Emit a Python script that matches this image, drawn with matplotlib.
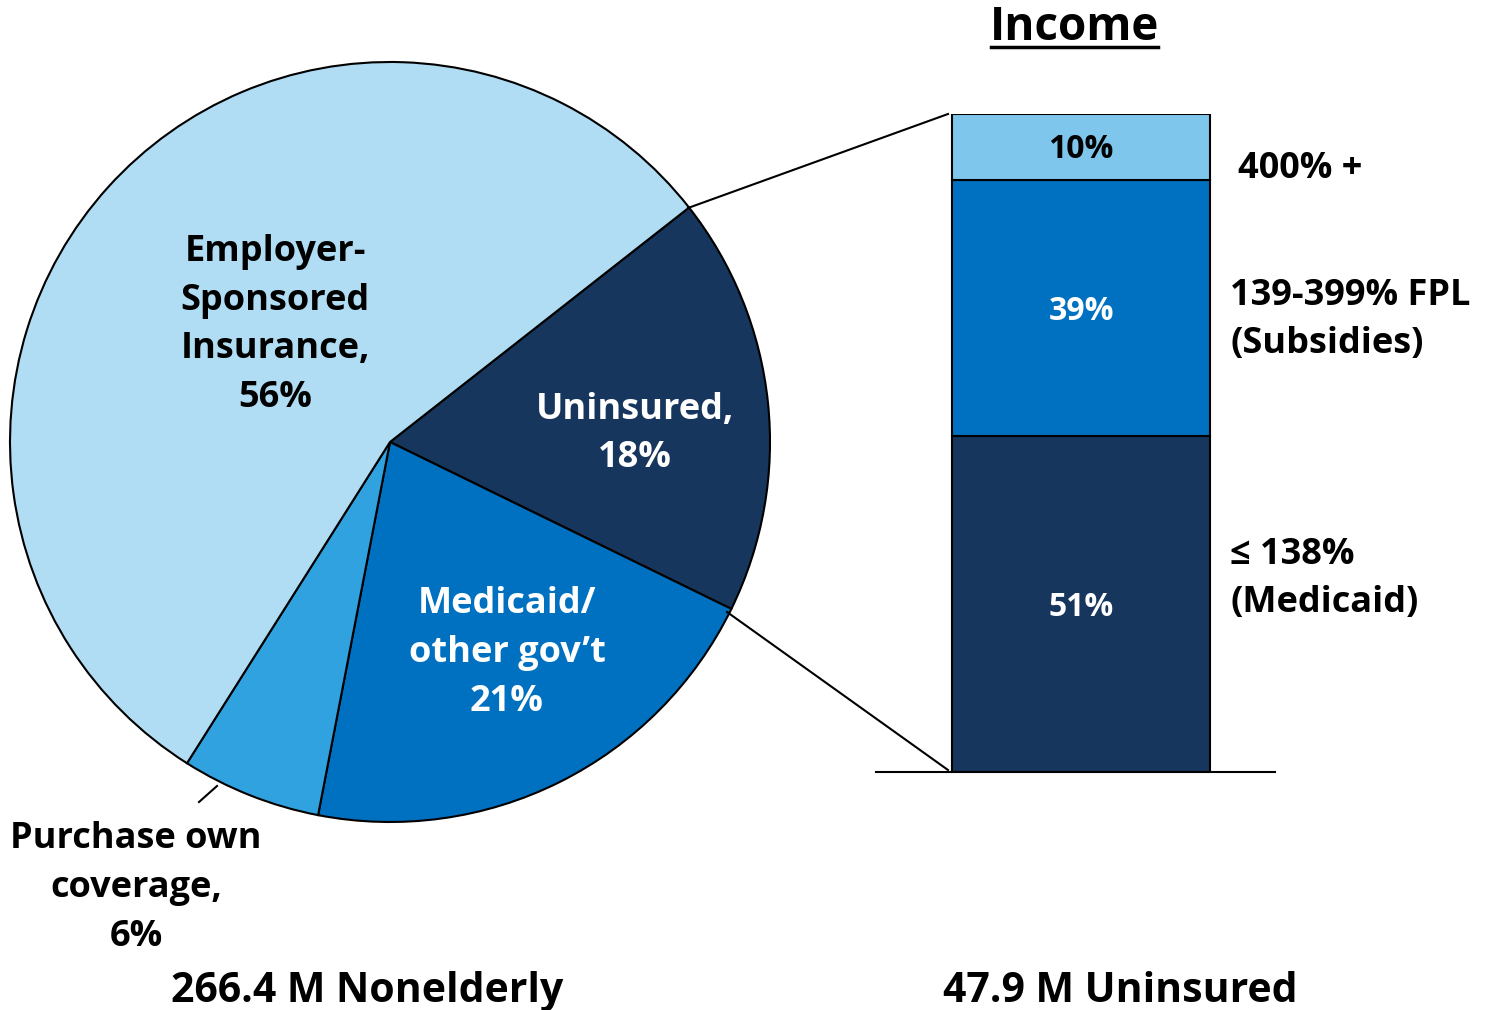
import matplotlib
matplotlib.use("Agg")
import matplotlib.pyplot as plt

# pie: coverage of the nonelderly population
pie_labels = ["Uninsured,\n18%", "Medicaid/\nother gov\u2019t\n21%", "Purchase own\ncoverage,\n6%",
              "Employer-\nSponsored\nInsurance,\n56%"]
pie_values = [18, 21, 6, 56]
pie_colors = ["#17365d", "#0070c0", "#31a2e0", "#b0ddf3"]

# stacked bar: uninsured by income
bar_values = [51, 39, 10]
bar_labels = ["51%", "39%", "10%"]
bar_colors = ["#17365d", "#0070c0", "#7fc6ed"]
bar_text_colors = ["white", "white", "black"]
income_labels = ["\u2264 138%\n(Medicaid)", "139-399% FPL\n(Subsidies)", "400% +"]

plt.rcParams["font.family"] = ["Open Sans", "DejaVu Sans"]
plt.rcParams["font.weight"] = "bold"

W, H = 1488, 1010
fig = plt.figure(figsize=(W / 100, H / 100), dpi=100)

# main axes in pixel units (y up)
ax = fig.add_axes([0, 0, 1, 1])
ax.pie(pie_values, colors=pie_colors, startangle=38.1, counterclock=False,
       center=(390, H - 442), radius=380,
       wedgeprops=dict(edgecolor="black", linewidth=1.5))
ax.set_aspect("equal")
ax.set_xlim(0, W)
ax.set_ylim(0, H)
ax.axis("off")

fs = 26
ls = 1.48
ax.text(635, H - 434, pie_labels[0], color="white", ha="center", va="center",
        fontsize=fs, fontweight="bold", linespacing=ls)
ax.text(507, H - 653, pie_labels[1], color="white", ha="center", va="center",
        fontsize=fs, fontweight="bold", linespacing=ls)
ax.text(275, H - 325, pie_labels[3], color="black", ha="center", va="center",
        fontsize=fs, fontweight="bold", linespacing=ls)
ax.text(136, H - 888, pie_labels[2], color="black", ha="center", va="center",
        fontsize=fs, fontweight="bold", linespacing=ls)
ax.plot([217, 199], [H - 786, H - 802], color="black", lw=1.5)

# connector lines
ax.plot([688, 948], [H - 208, H - 114], color="black", lw=1.5)
ax.plot([727, 948], [H - 612, H - 770], color="black", lw=1.5)

ax.text(367, H - 991, "266.4 M Nonelderly", ha="center", va="center", fontsize=29.5, fontweight="bold")
ax.text(1120, H - 991, "47.9 M Uninsured", ha="center", va="center", fontsize=29.5, fontweight="bold")
ax.text(1075, H - 27, "Income", ha="center", va="center", fontsize=33, fontweight="bold")
ax.plot([991, 1158], [H - 47, H - 47], color="black", lw=2.5)

# bar axes
bx = fig.add_axes([876 / W, (H - 772) / H, (1275 - 876) / W, (772 - 114) / H])
bx.set_xlim(0, 1)
bx.set_ylim(0, 100)
bottom = 0
for v, lab, c, tc in zip(bar_values, bar_labels, bar_colors, bar_text_colors):
    bx.bar(0.514, v, width=0.647, bottom=bottom, color=c, edgecolor="black", linewidth=1.5)
    bx.annotate(lab, (0.514, bottom + v / 2), xytext=(0, -3), textcoords="offset pixels",
                color=tc, ha="center", va="center", fontsize=23, fontweight="bold")
    bottom += v
for s in ["top", "left", "right"]:
    bx.spines[s].set_visible(False)
bx.spines["bottom"].set_linewidth(1.5)
bx.set_xticks([])
bx.set_yticks([])
bx.patch.set_alpha(0)

ax.text(1230, H - 579, income_labels[0], ha="left", va="center", fontsize=26,
        fontweight="bold", linespacing=ls)
ax.text(1230, H - 320, income_labels[1], ha="left", va="center", fontsize=26,
        fontweight="bold", linespacing=ls)
ax.text(1238, H - 169, income_labels[2], ha="left", va="center", fontsize=26,
        fontweight="bold")

fig.savefig("out.png", dpi=100)
